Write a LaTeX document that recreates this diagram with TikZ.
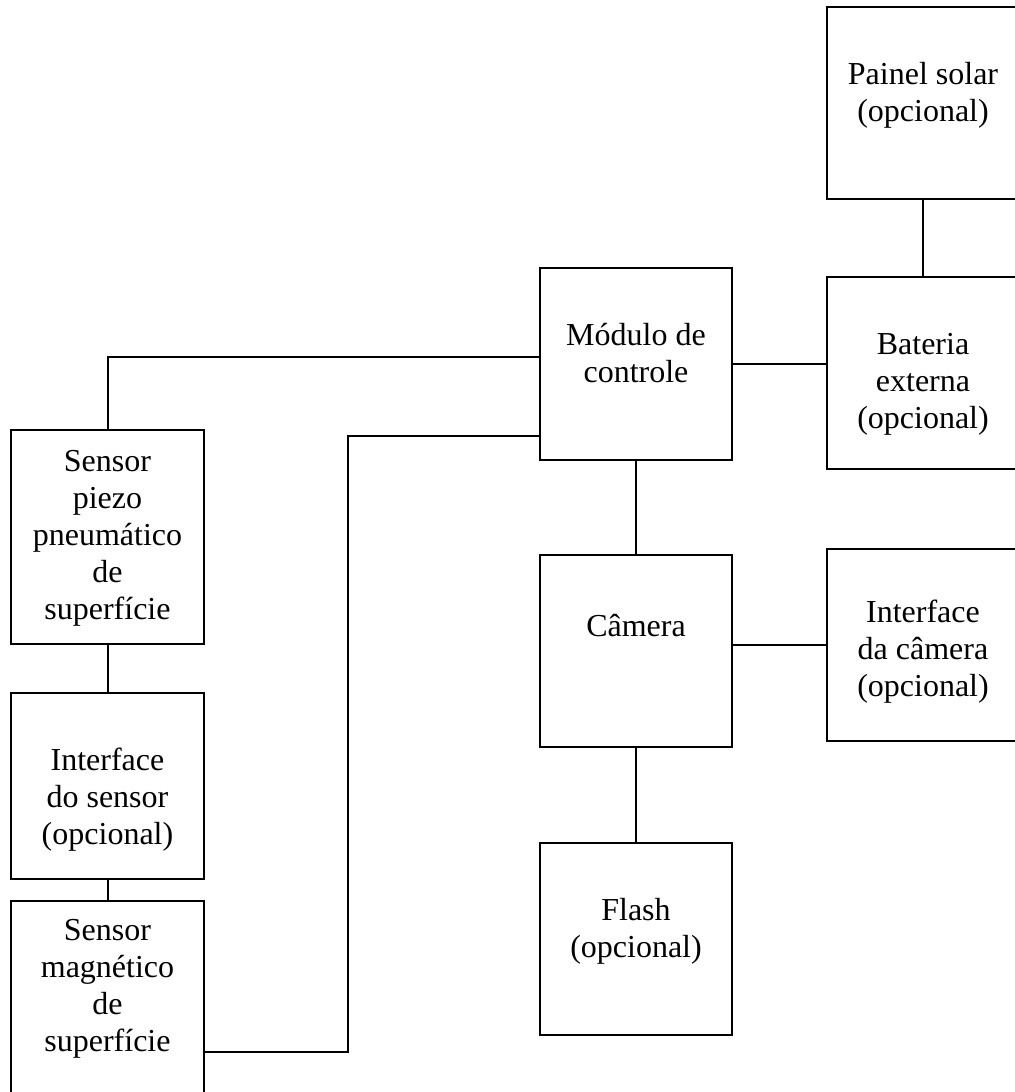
\documentclass[tikz,border=0pt]{standalone}
\usepackage{fontspec}
\setmainfont{Liberation Serif}
\usetikzlibrary{positioning}

\begin{document}
\begin{tikzpicture}[
  x=0.5pt, y=-0.5pt,
  % === GRUNDSTILE ===
  % Kasten fuer Baugruppen
  block/.style={
    draw=black,
    line width=1pt,
    minimum width=#1,
    minimum height=96pt,
    inner sep=0pt
  },
  block/.default=96pt,
  % Beschriftung im Kasten
  txt/.style={
    font=\fontsize{16}{18.5}\selectfont,
    align=center,
    inner sep=0pt
  },
  % Verbindungslinien
  conn/.style={
    draw=black,
    line width=1pt
  }
]

% =============================================================================
% HINTERGRUND
% =============================================================================
\useasboundingbox (0,0) rectangle (1015,1092);
\fill[white] (0,0) rectangle (1015,1092);

% =============================================================================
% RECHTE SEITE - Steuerung und Versorgung
% =============================================================================
\node[block] (painel)  at (923,103) {};
\node[block] (bateria) at (923,373) {};
\node[block] (modulo)  at (636,364) {};
\node[block] (camera)  at (636,651) {};
\node[block] (intcam)  at (923,645) {};
\node[block] (flash)   at (636,939) {};

\node[txt, below=26pt of painel.north]  (painel-t)  {\strut Painel solar\\(opcional)};
\node[txt, below=26pt of bateria.north] (bateria-t) {\strut Bateria\\externa\\(opcional)};
\node[txt, below=26pt of modulo.north]  (modulo-t)  {\strut M\'odulo de\\controle};
\node[txt, below=28pt of camera.north]  (camera-t)  {\strut C\^amera};
\node[txt, below=24pt of intcam.north]  (intcam-t)  {\strut Interface\\da c\^amera\\(opcional)};
\node[txt, below=26pt of flash.north]   (flash-t)   {\strut Flash\\(opcional)};

% =============================================================================
% LINKE SEITE - Sensoren
% =============================================================================
\node[block=96.5pt, minimum height=107pt] (piezo)   at (107.5,537) {};
\node[block=96.5pt, minimum height=93pt]  (intsens) at (107.5,786) {};
\node[block=96.5pt, minimum height=151pt] (magnet)  at (107.5,1052) {};

\node[txt, below=8pt of piezo.north]    (piezo-t)   {\strut Sensor\\piezo\\pneum\'atico\\de\\superf\'icie};
\node[txt, below=26pt of intsens.north] (intsens-t) {\strut Interface\\do sensor\\(opcional)};
\node[txt, below=7pt of magnet.north]   (magnet-t)  {\strut Sensor\\magn\'etico\\de\\superf\'icie};

% =============================================================================
% VERBINDUNGEN
% =============================================================================
\coordinate (knick) at (348,1052);

\draw[conn] (painel) -- (bateria);
\draw[conn] (modulo.east) -- (modulo.east -| bateria.west);
\draw[conn] (modulo) -- (camera);
\draw[conn] (intcam.west -| camera.east) -- (intcam.west);
\draw[conn] (camera) -- (flash);
\draw[conn] ([yshift=3.5pt]modulo.west) -| (piezo.north);
\draw[conn] ([yshift=-36pt]modulo.west) -| (knick) -- (magnet.east);
\draw[conn] (piezo) -- (intsens);
\draw[conn] (intsens) -- (magnet);

\end{tikzpicture}
\end{document}
